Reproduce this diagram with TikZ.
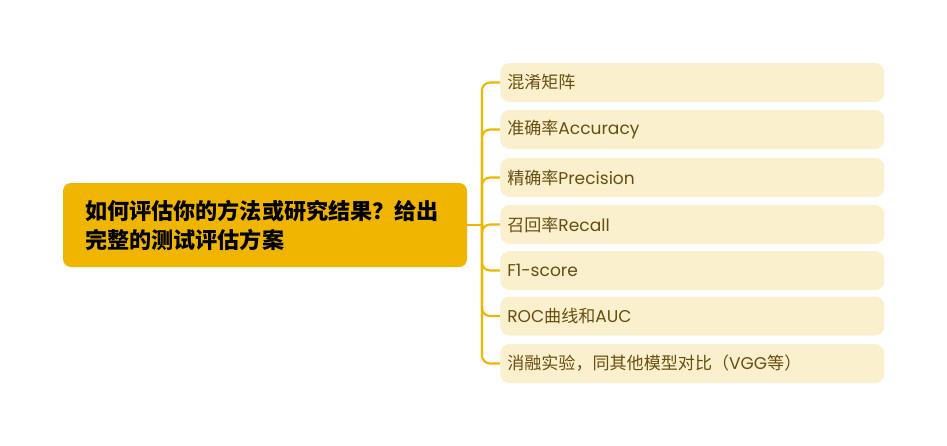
\documentclass[tikz,border=0pt]{standalone}
\usepackage{fontspec}
\setmainfont{Noto Sans CJK SC}
\newfontfamily\lat{Poppins}
\definecolor{gold}{RGB}{240,181,0}
\definecolor{childfill}{RGB}{251,240,205}
\definecolor{childtext}{RGB}{105,78,16}
\begin{document}
\begin{tikzpicture}[x=0.75pt,y=-0.75pt,
  rootbox/.style={draw=none,fill=gold,rounded corners=6pt,minimum width=303pt,minimum height=63pt,
    text width=270pt,align=left,inner xsep=16.5pt,inner ysep=0pt,font=\fontsize{16.6}{21.75}\selectfont\bfseries,text=black},
  childbox/.style={draw=none,fill=childfill,rounded corners=7pt,minimum width=288pt,minimum height=29.25pt,
    text width=277.5pt,align=left,inner xsep=5.25pt,inner ysep=0pt,anchor=west,
    font=\fontsize{12.8}{15}\selectfont,text=childtext},
  conn/.style={draw=gold,line width=1.6pt,rounded corners=6pt}]
\useasboundingbox (0,0) rectangle (947,446);
\node[rootbox] (root) at (265,225) {如何评估你的方法或研究结果？给出\\完整的测试评估方案};
\node[childbox] (c1) at (500,82.5) {混淆矩阵};
\node[childbox] (c2) at (500,129.5) {准确率{\lat Accuracy}};
\node[childbox] (c3) at (500,177.5) {精确率{\lat Precision}};
\node[childbox] (c4) at (500,224.5) {召回率{\lat Recall}};
\node[childbox] (c5) at (500,270.5) {{\lat F1-score}};
\node[childbox] (c6) at (500,316) {{\lat ROC}曲线和{\lat AUC}};
\node[childbox] (c7) at (500,363.5) {消融实验，同其他模型对比（{\lat VGG}等）};
\coordinate (j) at (482,225);
\draw[conn] (root.east) -- (j);
\foreach \c in {c1,c2,c3,c4,c5,c6,c7} {
  \draw[conn] (j) |- (\c.west);
}
\end{tikzpicture}
\end{document}
